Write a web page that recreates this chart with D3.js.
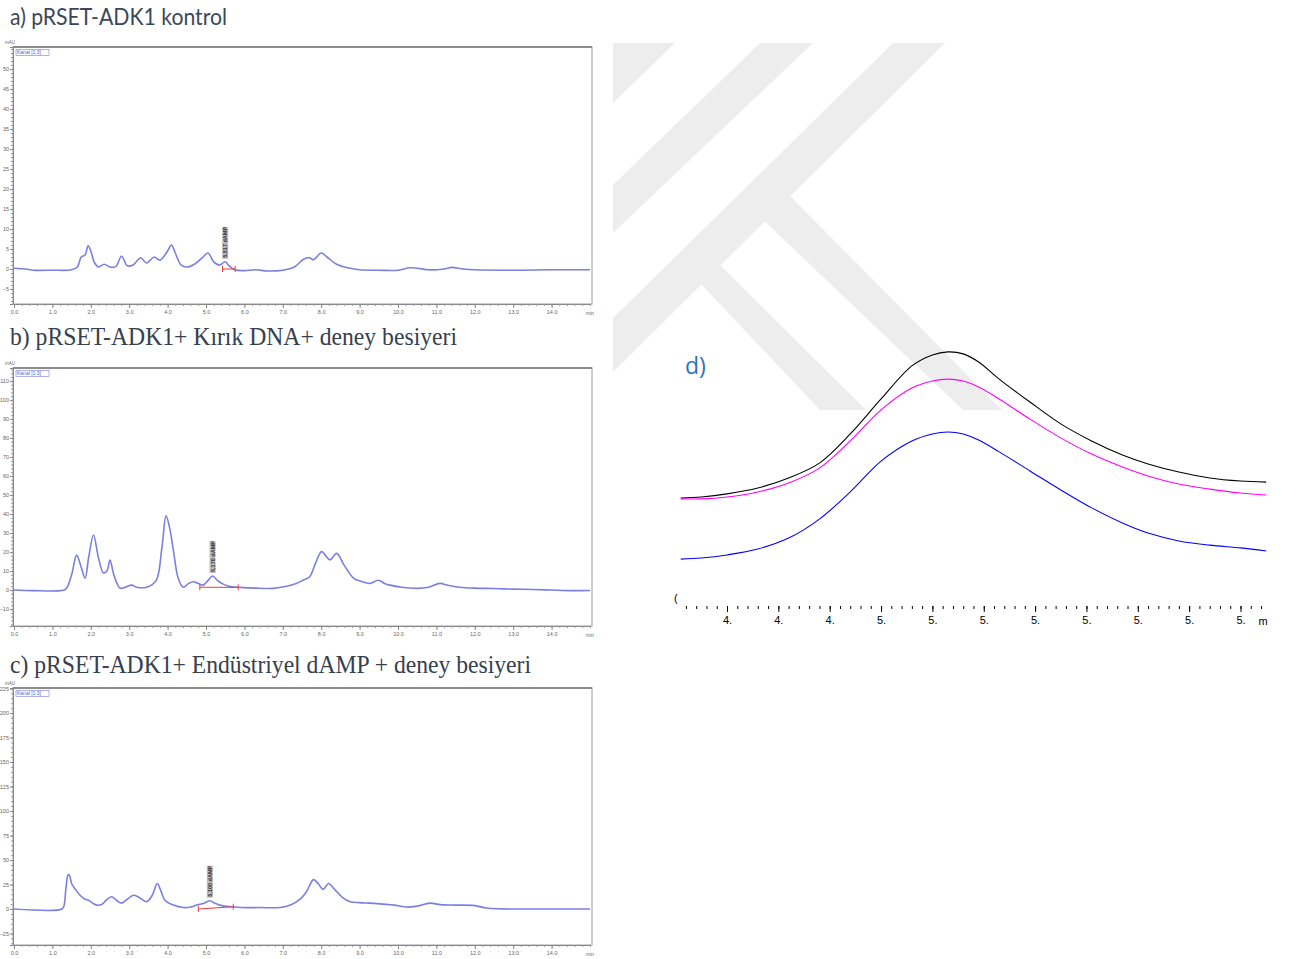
<!DOCTYPE html>
<html><head><meta charset="utf-8">
<script src="https://cdn.jsdelivr.net/npm/d3@7"></script>
<style>body{margin:0;background:#fff}svg{display:block}</style>
</head><body>
<svg id="chart" width="1296" height="959"></svg>
<script>
// ---------- DATA ----------
// Panel a) pRSET-ADK1 kontrol
const timeA = [0.0,0.3,0.5,1.0,1.5,1.65,1.75,1.85,1.93,2.0,2.1,2.2,2.35,2.5,2.65,2.8,2.95,3.1,3.3,3.45,3.65,3.8,4.0,4.1,4.2,4.35,4.5,4.7,4.9,5.05,5.2,5.35,5.5,5.6,5.75,6.0,6.3,6.6,7.0,7.3,7.55,7.7,7.8,8.0,8.15,8.4,8.7,9.0,9.5,10.0,10.3,10.5,10.8,11.2,11.4,11.7,12.0,13.0,14.0,15.0];
const valueA = [0.2,0.0,-0.3,-0.3,-0.2,0.5,3.0,3.5,5.8,4.5,1.5,0.5,1.2,0.5,0.6,3.2,0.8,1.0,2.8,1.5,3.0,2.2,4.5,6.0,4.0,1.0,0.5,1.2,2.8,4.0,1.8,1.0,1.8,0.8,-0.2,-0.4,-0.2,-0.5,-0.3,0.5,2.5,2.8,2.3,4.0,3.0,1.2,0.3,-0.2,-0.3,-0.3,0.3,0.2,-0.2,0.0,0.4,0.0,-0.2,-0.3,-0.2,-0.2];
// Panel b) Kırık DNA
const timeB = [0.0,0.5,1.2,1.35,1.5,1.63,1.75,1.85,1.95,2.07,2.2,2.33,2.42,2.5,2.6,2.76,2.9,3.06,3.2,3.45,3.7,3.85,3.96,4.05,4.15,4.28,4.41,4.55,4.67,4.8,4.93,5.05,5.17,5.3,5.41,5.6,5.89,6.3,6.75,7.1,7.35,7.53,7.7,7.85,8.01,8.12,8.23,8.4,8.6,8.84,9.05,9.27,9.49,9.65,9.79,10.1,10.49,10.8,11.09,11.3,11.6,12.0,12.5,13.0,13.5,14.0,14.5,15.0];
const valueB = [0.0,-0.3,-0.3,0.5,8,18.4,12,6.3,18,29,17,9,10,15.8,8,1,1.5,2.6,1.5,1.5,5,22,39,33,21,6,1.5,3.5,4.4,3.5,2.6,5,7.4,5,3.5,2,1.4,1.0,0.9,2,3.5,5.2,7,14,20.2,18,15.8,19.3,13,6.3,4.5,3.5,5.2,3.5,2.6,1.5,0.9,1.5,3.5,2.5,1.5,1.0,0.8,0.5,0.3,0.0,-0.3,-0.2];
// Panel c) Endüstriyel dAMP
const timeC = [0.0,1.25,1.30,1.35,1.41,1.45,1.5,1.6,1.72,1.85,1.94,2.05,2.15,2.3,2.4,2.54,2.67,2.8,2.95,3.11,3.25,3.45,3.6,3.73,3.83,3.93,4.15,4.41,4.6,4.76,4.95,5.1,5.23,5.36,5.6,5.9,6.4,6.93,7.2,7.45,7.62,7.8,7.92,8.05,8.19,8.35,8.55,8.75,9.0,9.27,9.6,9.9,10.23,10.5,10.83,11.1,11.5,12.0,12.3,12.7,13.5,15.0];
const valueC = [0,0,3,20,35,34,26,20,14,10,9,6,4,5,9,12.5,9,6,10,14,12,7.5,14,26,18,9,4,1.5,2,4,6,8.5,6,4,2.5,1.5,1.5,1.5,4,10,18,30,26,20,26,20,12,7.5,6.5,6,5,4,2,3,6,4.5,4,3.5,1,0.2,0,0];

const panelTitles = ["a) pRSET-ADK1 kontrol", "b) pRSET-ADK1+ Kırık DNA+ deney besiyeri", "c) pRSET-ADK1+ Endüstriyel dAMP + deney besiyeri"];
const yTicksA = [-5,0,5,10,15,20,25,30,35,40,45,50];
const yTicksB = [-10,0,10,20,30,40,50,60,70,80,90,100,110];
const yTicksC = [-25,0,25,50,75,100,125,150,175,200,225];
const xTicksLeft = [0,1,2,3,4,5,6,7,8,9,10,11,12,13,14];
const channelLabels = ["Kanal [1:3]", "Kanal [1:3]", "Kanal [1:3]"];
const peakTimes = [5.5, 5.17, 5.1];
const peakLabels = ["5,517 dAMP", "5,170 dAMP", "5,100 dAMP"];
const integStart = [[5.43,0.0],[4.84,1.5],[4.80,0.0]];
const integEnd = [[5.76,0.0],[5.84,1.4],[5.71,2.3]];

// Panel d) zoomed overlay
const timeD = [4.61,4.65,4.70,4.76,4.82,4.88,4.94,5.00,5.06,5.10,5.13,5.16,5.19,5.23,5.29,5.35,5.41,5.47,5.52,5.58,5.64,5.70,5.75];
const blackD = [3.64,3.68,3.79,4.00,4.36,4.89,5.93,7.18,8.36,8.75,8.86,8.79,8.50,7.89,7.07,6.29,5.68,5.18,4.86,4.57,4.36,4.25,4.21];
const magentaD = [3.61,3.61,3.68,3.86,4.18,4.71,5.68,6.79,7.57,7.82,7.89,7.82,7.61,7.18,6.46,5.79,5.21,4.75,4.43,4.14,3.96,3.82,3.75];
const blueD = [1.46,1.50,1.61,1.82,2.21,2.89,3.86,4.96,5.68,5.93,6.00,5.93,5.71,5.29,4.61,3.93,3.29,2.75,2.39,2.11,1.96,1.86,1.75];
const xTicksD = [4.7,4.8,4.9,5.0,5.1,5.2,5.3,5.4,5.5,5.6,5.7];

// ---------- DRAW ----------
const svg = d3.select("#chart");
const fontSans = "'Liberation Sans', Arial, sans-serif";

// watermark
const wm = svg.append("g").attr("fill", "#ededed");
const wmPolys = [
  [[613,43],[675,43],[613,103]],
  [[760,43],[813,43],[613,233],[613,185]],
  [[893,43],[945,43],[613,372],[613,318]],
  [[790,196],[1002,410],[963,410],[739,197]],
  [[705,250],[866,410],[820,410],[686,268]]
];
wmPolys.forEach(p => wm.append("polygon").attr("points", p.map(d => d.join(",")).join(" ")));

// titles
svg.append("text").attr("x", 10).attr("y", 25).text(panelTitles[0])
  .attr("font-family", "Lato, 'Open Sans', sans-serif").attr("font-size", 24)
  .attr("fill", "#3c4858").attr("textLength", 217).attr("lengthAdjust", "spacingAndGlyphs");
svg.append("text").attr("x", 10).attr("y", 345).text(panelTitles[1])
  .attr("font-family", "'Liberation Serif', 'Times New Roman', serif").attr("font-size", 25)
  .attr("fill", "#36404e").attr("textLength", 447).attr("lengthAdjust", "spacingAndGlyphs");
svg.append("text").attr("x", 10).attr("y", 673).text(panelTitles[2])
  .attr("font-family", "'Liberation Serif', 'Times New Roman', serif").attr("font-size", 25)
  .attr("fill", "#36404e").attr("textLength", 521).attr("lengthAdjust", "spacingAndGlyphs");

const panels = [
  {top:47, bottom:304, dom:[-8.75,55.5], ticks:yTicksA, t:timeA, v:valueA, minor:1},
  {top:368, bottom:626, dom:[-18.9,116.8], ticks:yTicksB, t:timeB, v:valueB, minor:2},
  {top:688, bottom:945, dom:[-36.7,225.5], ticks:yTicksC, t:timeC, v:valueC, minor:5}
];
const xL = d3.scaleLinear().domain([0,15]).range([14,590]);

panels.forEach((p, i) => {
  const g = svg.append("g");
  const y = d3.scaleLinear().domain(p.dom).range([p.bottom, p.top]);
  // frame
  g.append("rect").attr("x", 13).attr("y", p.top).attr("width", 579).attr("height", p.bottom - p.top)
    .attr("fill", "none").attr("stroke", "#b0b0b0").attr("stroke-width", 1.2);
  g.append("line").attr("x1", 13).attr("x2", 592).attr("y1", p.top).attr("y2", p.top)
    .attr("stroke", "#8c8c8c").attr("stroke-width", 2);
  // y axis
  const minorY = d3.range(Math.ceil(p.dom[0] / p.minor) * p.minor, p.dom[1], p.minor);
  const ya = g.append("g").attr("transform", "translate(13,0)")
    .call(d3.axisLeft(y).tickValues(minorY).tickSize(2).tickFormat(""));
  ya.select(".domain").remove();
  ya.selectAll("line").attr("stroke", "#999");
  const ya2 = g.append("g").attr("transform", "translate(13,0)")
    .call(d3.axisLeft(y).tickValues(p.ticks).tickSize(3).tickPadding(1).tickFormat(d3.format("d")));
  ya2.select(".domain").attr("stroke", "#888");
  ya2.selectAll("line").attr("stroke", "#888");
  ya2.selectAll("text").attr("font-size", 5.5).attr("fill", "#666").attr("font-family", fontSans);
  g.append("text").attr("x", 5).attr("y", p.top - 3).text("mAU")
    .attr("font-size", 4.5).attr("fill", "#666").attr("font-family", fontSans);
  // x axis
  const xa1 = g.append("g").attr("transform", `translate(0,${p.bottom})`)
    .call(d3.axisBottom(xL).tickValues(d3.range(0, 15.01, 0.2)).tickSize(2).tickFormat(""));
  xa1.select(".domain").attr("stroke", "#888");
  xa1.selectAll("line").attr("stroke", "#999");
  const xa2 = g.append("g").attr("transform", `translate(0,${p.bottom})`)
    .call(d3.axisBottom(xL).tickValues(xTicksLeft).tickSize(4).tickPadding(2).tickFormat(d3.format(".1f")));
  xa2.select(".domain").remove();
  xa2.selectAll("line").attr("stroke", "#888");
  xa2.selectAll("text").attr("font-size", 5.5).attr("fill", "#666").attr("font-family", fontSans);
  g.append("text").attr("x", xL(15)).attr("y", p.bottom + 11).attr("text-anchor", "middle").text("min")
    .attr("font-size", 5).attr("fill", "#666").attr("font-family", fontSans);
  // channel label box
  g.append("rect").attr("x", 16).attr("y", p.top + 2.5).attr("width", 33).attr("height", 6)
    .attr("fill", "none").attr("stroke", "#7a7ae0").attr("stroke-width", 0.6);
  g.append("text").attr("x", 17).attr("y", p.top + 7.3).text(channelLabels[i])
    .attr("font-size", 5).attr("fill", "#5a5ad8").attr("font-family", fontSans);
  // trace
  const pts = p.t.map((t, k) => [t, p.v[k]]);
  g.append("path").datum(pts)
    .attr("d", d3.line().x(d => xL(d[0])).y(d => y(d[1])).curve(d3.curveCatmullRom.alpha(0.5)))
    .attr("fill", "none").attr("stroke", "#7b7fe2").attr("stroke-width", 1.6).attr("stroke-linejoin", "round");
  // integration baseline
  const s = integStart[i], e = integEnd[i];
  g.append("line").attr("x1", xL(s[0])).attr("y1", y(s[1])).attr("x2", xL(e[0])).attr("y2", y(e[1]))
    .attr("stroke", "#e04040").attr("stroke-width", 1);
  [s, e].forEach(q => g.append("line").attr("x1", xL(q[0])).attr("x2", xL(q[0]))
    .attr("y1", y(q[1]) - 3).attr("y2", y(q[1]) + 3).attr("stroke", "#e04040").attr("stroke-width", 1));
  // peak label (rotated)
  const pk = peakTimes[i];
  const pv = d3.max(pts.filter(d => Math.abs(d[0] - pk) < 0.15), d => d[1]);
  const px = xL(pk), py = y(pv) - 3;
  g.append("rect").attr("x", px - 3).attr("y", py - 32).attr("width", 6).attr("height", 32).attr("fill", "#bdbdbd");
  g.append("text").attr("transform", `translate(${px + 2},${py - 1}) rotate(-90)`).text(peakLabels[i])
    .attr("font-size", 5.5).attr("font-weight", "bold").attr("fill", "#333").attr("font-family", fontSans);
});

// ---------- panel d ----------
const xD = d3.scaleLinear().domain([4.7, 5.7]).range([727, 1240.5]);
const yD = d3.scaleLinear().domain([0, 10]).range([600, 320]);
const gd = svg.append("g");
gd.append("text").attr("x", 685).attr("y", 374).text("d)")
  .attr("font-family", "'Open Sans', 'Liberation Sans', sans-serif").attr("font-size", 23).attr("fill", "#2e74b5");
const lineD = d3.line().x(d => xD(d[0])).y(d => yD(d[1])).curve(d3.curveCatmullRom.alpha(0.5));
[[blackD, "#000000"], [magentaD, "#ff00ff"], [blueD, "#0000ff"]].forEach(([vals, col]) => {
  gd.append("path").datum(timeD.map((t, k) => [t, vals[k]])).attr("d", lineD)
    .attr("fill", "none").attr("stroke", col).attr("stroke-width", 1.1);
});
// axis ticks (no domain line)
const xaD1 = gd.append("g").attr("transform", "translate(0,606)")
  .call(d3.axisBottom(xD).tickValues(d3.range(4.62, 5.745, 0.02)).tickSize(3).tickFormat(""));
xaD1.select(".domain").remove();
xaD1.selectAll("line").attr("stroke", "#000").attr("stroke-width", 1);
const xaD2 = gd.append("g").attr("transform", "translate(0,606)")
  .call(d3.axisBottom(xD).tickValues(xTicksD).tickSize(6).tickPadding(4).tickFormat(d => Math.floor(d + 1e-9) + "."));
xaD2.select(".domain").remove();
xaD2.selectAll("line").attr("stroke", "#000").attr("stroke-width", 1);
xaD2.selectAll("text").attr("font-size", 11).attr("fill", "#000").attr("font-family", fontSans);
gd.append("text").attr("x", 1263).attr("y", 625).attr("text-anchor", "middle").text("m")
  .attr("font-size", 11).attr("fill", "#000").attr("font-family", fontSans);
gd.append("text").attr("x", 674).attr("y", 602).text("(")
  .attr("font-size", 11).attr("fill", "#000").attr("font-family", fontSans);
</script>
</body></html>
